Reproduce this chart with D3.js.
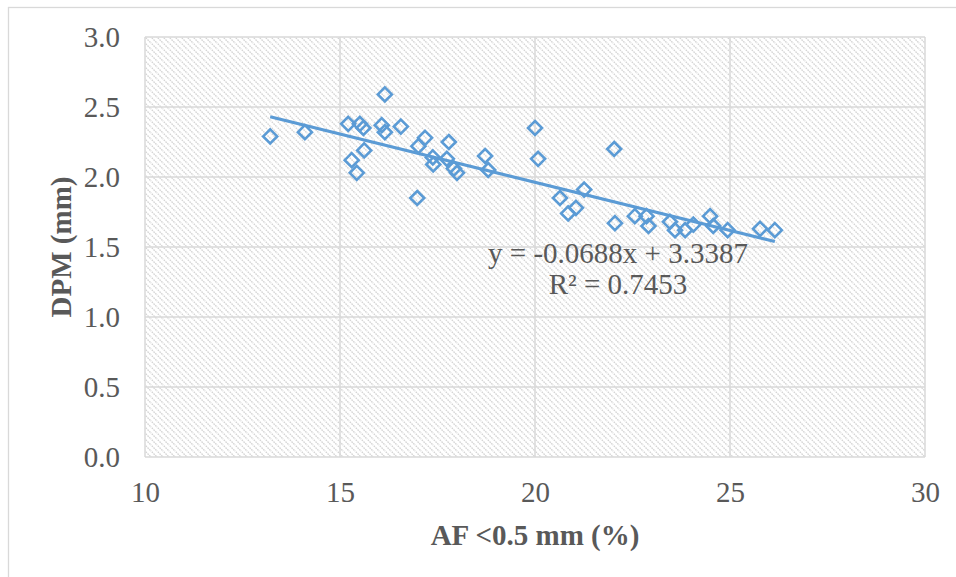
<!DOCTYPE html>
<html>
<head>
<meta charset="utf-8">
<script src="https://cdn.jsdelivr.net/npm/d3@7"></script>
<style>
  body { margin: 0; background: #fff; }
  svg { display: block; }
</style>
</head>
<body>
<div id="chart"></div>
<script>
// AF <0.5 mm (%) vs DPM (mm)
const afValues = [13.21, 14.10, 15.21, 15.51, 15.60, 15.30, 15.43, 15.62, 16.15, 16.07,
  16.15, 16.56, 16.98, 17.18, 17.01, 17.38, 17.39, 17.74, 17.79, 17.92,
  18.00, 18.72, 18.80, 20.00, 20.08, 22.03, 20.64, 20.85, 21.05, 21.26,
  22.05, 22.56, 22.86, 22.91, 23.46, 23.59, 23.85, 24.06, 24.49, 24.57,
  24.94, 25.77, 26.15];
const dpmValues = [2.29, 2.32, 2.38, 2.38, 2.35, 2.12, 2.03, 2.19, 2.59, 2.37,
  2.32, 2.36, 1.85, 2.28, 2.22, 2.14, 2.09, 2.13, 2.25, 2.06,
  2.03, 2.15, 2.05, 2.35, 2.13, 2.20, 1.85, 1.74, 1.78, 1.91,
  1.67, 1.72, 1.72, 1.65, 1.68, 1.62, 1.62, 1.66, 1.72, 1.65,
  1.62, 1.63, 1.62];
const xTicks = [10, 15, 20, 25, 30];
const yTicks = [0, 0.5, 1, 1.5, 2, 2.5, 3];
const slope = -0.0688, intercept = 3.3387;
const eqLabel = "y = -0.0688x + 3.3387";
const r2Label = "R² = 0.7453";

const width = 956, height = 577;
const margin = {top: 37, right: 31, bottom: 120, left: 145};
const visWidth = width - margin.left - margin.right;
const visHeight = height - margin.top - margin.bottom;
const blue = "#5b9bd5", grid = "#d9d9d9", textCol = "#595959";
const serif = "'Liberation Serif', 'Times New Roman', serif";
const fontSize = "29px";

const data = afValues.map((x, i) => ({x: x, y: dpmValues[i]}));

const svg = d3.select("#chart")
  .append("svg")
  .attr("width", width)
  .attr("height", height);

// hatched fill of the plot area
const defs = svg.append("defs");
const pat = defs.append("pattern")
  .attr("id", "hatch")
  .attr("patternUnits", "userSpaceOnUse")
  .attr("width", 6)
  .attr("height", 6);
pat.append("rect").attr("width", 6).attr("height", 6).attr("fill", "#fff");
pat.append("path")
  .attr("d", "M-1,-1 L7,7 M-1,5 L1,7 M5,-1 L7,1")
  .attr("stroke", "#d4d4d4")
  .attr("stroke-width", 1.3)
  .attr("stroke-dasharray", "1.6,0.9");

// outer chart border
svg.append("rect")
  .attr("x", 8.5).attr("y", 7.5)
  .attr("width", 960).attr("height", 600)
  .attr("fill", "none")
  .attr("stroke", grid)
  .attr("stroke-width", 1.3);

const g = svg.append("g")
  .attr("transform", `translate(${margin.left}, ${margin.top})`);

const x = d3.scaleLinear().domain([10, 30]).range([0, visWidth]);
const y = d3.scaleLinear().domain([0, 3]).range([visHeight, 0]);

g.append("rect")
  .attr("width", visWidth)
  .attr("height", visHeight)
  .attr("fill", "url(#hatch)");

// gridlines
g.append("g")
  .selectAll("line.h")
  .data(yTicks)
  .join("line")
  .attr("x1", 0).attr("x2", visWidth)
  .attr("y1", d => y(d)).attr("y2", d => y(d))
  .attr("stroke", grid).attr("stroke-width", 1.5);

g.append("g")
  .selectAll("line.v")
  .data(xTicks)
  .join("line")
  .attr("y1", 0).attr("y2", visHeight)
  .attr("x1", d => x(d)).attr("x2", d => x(d))
  .attr("stroke", grid).attr("stroke-width", 1.5);

// axes (labels only, no lines)
const yAxis = d3.axisLeft(y).tickValues(yTicks).tickFormat(d3.format(".1f")).tickSize(0).tickPadding(25);
const yAxisGroup = g.append("g").call(yAxis);
yAxisGroup.select(".domain").remove();
yAxisGroup.selectAll("text")
  .attr("font-family", serif)
  .attr("font-size", fontSize)
  .attr("fill", textCol);

const xAxis = d3.axisBottom(x).tickValues(xTicks).tickSize(0).tickPadding(24);
const xAxisGroup = g.append("g")
  .attr("transform", `translate(0, ${visHeight})`)
  .call(xAxis);
xAxisGroup.select(".domain").remove();
xAxisGroup.selectAll("text")
  .attr("font-family", serif)
  .attr("font-size", fontSize)
  .attr("fill", textCol);

// trendline
const xMin = d3.min(afValues), xMax = d3.max(afValues);
g.append("line")
  .attr("x1", x(xMin)).attr("y1", y(slope * xMin + intercept))
  .attr("x2", x(xMax)).attr("y2", y(slope * xMax + intercept))
  .attr("stroke", blue)
  .attr("stroke-width", 3.2);

// markers
const r = 7;
g.append("g")
  .selectAll("path")
  .data(data)
  .join("path")
  .attr("transform", d => `translate(${x(d.x)}, ${y(d.y)})`)
  .attr("d", `M0,${-r} L${r},0 L0,${r} L${-r},0 Z`)
  .attr("fill", "none")
  .attr("stroke", blue)
  .attr("stroke-width", 2.6);

// equation labels
g.append("text")
  .text(eqLabel)
  .attr("x", 473).attr("y", 226)
  .attr("text-anchor", "middle")
  .attr("font-family", serif)
  .attr("font-size", fontSize)
  .attr("fill", textCol);
g.append("text")
  .text(r2Label)
  .attr("x", 473).attr("y", 257)
  .attr("text-anchor", "middle")
  .attr("font-family", serif)
  .attr("font-size", fontSize)
  .attr("fill", textCol);

// axis titles
svg.append("text")
  .text("AF <0.5 mm (%)")
  .attr("x", margin.left + visWidth / 2)
  .attr("y", 545)
  .attr("text-anchor", "middle")
  .attr("font-family", serif)
  .attr("font-weight", "bold")
  .attr("font-size", fontSize)
  .attr("fill", textCol);

svg.append("text")
  .text("DPM (mm)")
  .attr("transform", `translate(71, ${margin.top + visHeight / 2}) rotate(-90)`)
  .attr("text-anchor", "middle")
  .attr("font-family", serif)
  .attr("font-weight", "bold")
  .attr("font-size", fontSize)
  .attr("fill", textCol);
</script>
</body>
</html>
